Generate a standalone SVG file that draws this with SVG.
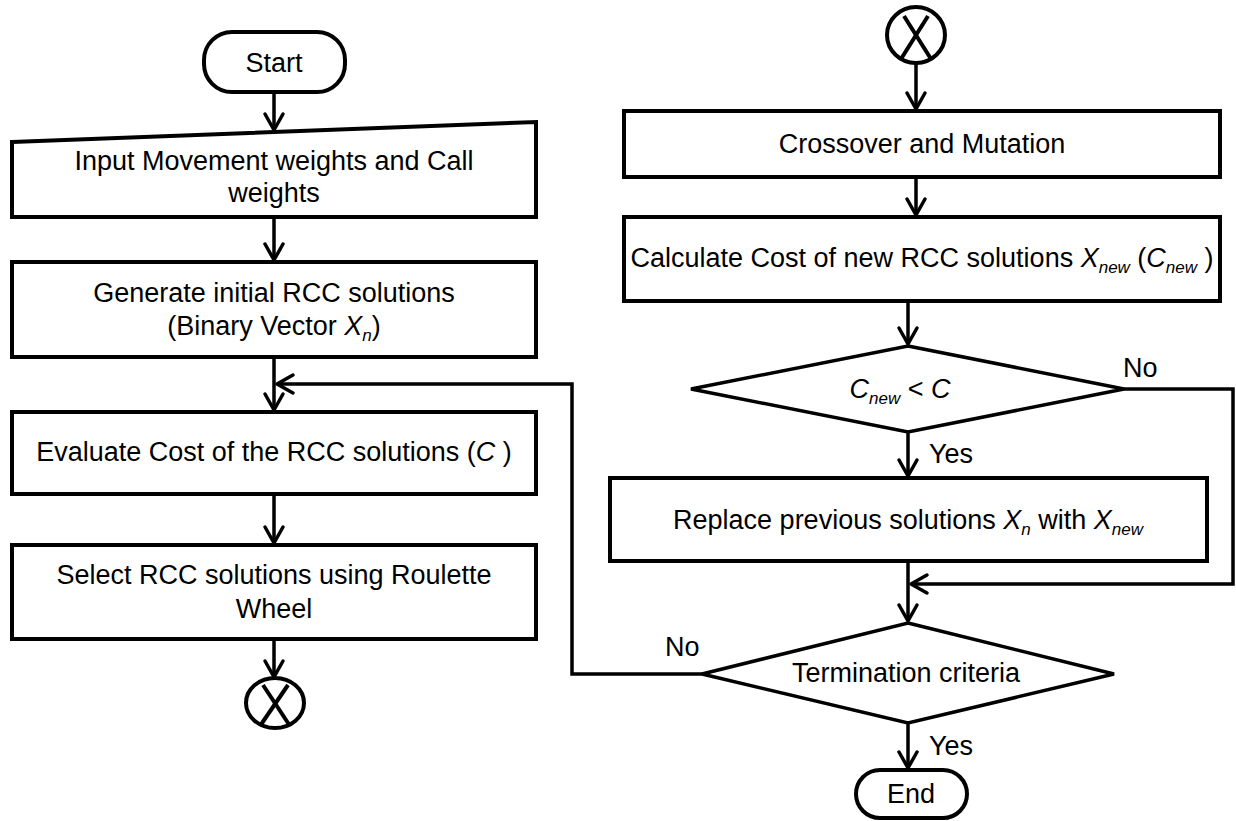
<svg xmlns="http://www.w3.org/2000/svg" width="1236" height="821" viewBox="0 0 1236 821">
<style>
.box{fill:#fff;stroke:#000;stroke-width:4;stroke-linejoin:miter}
.dia{fill:#fff;stroke:#000;stroke-width:3.5}
.ln{fill:none;stroke:#000;stroke-width:3.5}
.t{font-family:"Liberation Sans",Arial,sans-serif;font-size:27px;fill:#000}
.c{text-anchor:middle}
.i{font-style:italic}
.s{font-style:italic;font-size:17px}
</style>
<defs>
<marker id="ah" markerUnits="userSpaceOnUse" markerWidth="40" markerHeight="40" viewBox="-20 -20 40 40" refX="0" refY="0" orient="auto" overflow="visible">
<path d="M-16,-9 L0,0 L-16,9" fill="none" stroke="#000" stroke-width="3.5" stroke-linejoin="round" stroke-linecap="round"/>
</marker>
</defs>
<rect width="1236" height="821" fill="#fff"/>
<g id="connectors">
<path class="ln" d="M274,92 L274,130" marker-end="url(#ah)"/>
<path class="ln" d="M274,217 L274,260" marker-end="url(#ah)"/>
<path class="ln" d="M274,357 L274,410" marker-end="url(#ah)"/>
<path class="ln" d="M274,494 L274,543" marker-end="url(#ah)"/>
<path class="ln" d="M274,639 L274,677" marker-end="url(#ah)"/>
<path class="ln" d="M916,63 L916,109" marker-end="url(#ah)"/>
<path class="ln" d="M916,177 L916,215" marker-end="url(#ah)"/>
<path class="ln" d="M908,301 L908,344" marker-end="url(#ah)"/>
<path class="ln" d="M908,432 L908,476" marker-end="url(#ah)"/>
<path class="ln" d="M1124,389 L1233,389 L1233,584 L911,584" marker-end="url(#ah)"/>
<path class="ln" d="M908,561 L908,621" marker-end="url(#ah)"/>
<path class="ln" d="M908,723 L908,768" marker-end="url(#ah)"/>
<path class="ln" d="M702,674 L572,674 L572,384 L277,384" marker-end="url(#ah)"/>
<text class="t" x="1123" y="377">No</text>
<text class="t" x="929" y="463">Yes</text>
<text class="t" x="665" y="656">No</text>
<text class="t" x="929" y="755">Yes</text>
</g>
<g id="start">
<rect class="box" x="204" y="32" width="141" height="60" rx="28" ry="28"/>
<text class="t c" x="274" y="72">Start</text>
</g>
<g id="input">
<polygon class="box" points="12,142 536,122 536,217 12,217"/>
<text class="t c" x="274" y="170">Input Movement weights and Call</text>
<text class="t c" x="274" y="202">weights</text>
</g>
<g id="generate">
<rect class="box" x="12" y="262" width="524" height="95"/>
<text class="t c" x="274" y="302">Generate initial RCC solutions</text>
<text class="t c" x="274" y="335">(Binary Vector <tspan class="i">X</tspan><tspan class="s" dy="6">n</tspan><tspan dy="-6">)</tspan></text>
</g>
<g id="evaluate">
<rect class="box" x="12" y="412" width="524" height="82"/>
<text class="t c" x="274" y="461">Evaluate Cost of the RCC solutions (<tspan class="i">C</tspan> )</text>
</g>
<g id="select">
<rect class="box" x="12" y="545" width="524" height="94"/>
<text class="t c" x="274" y="584">Select RCC solutions using Roulette</text>
<text class="t c" x="274" y="618">Wheel</text>
</g>
<g id="connector-out">
<ellipse cx="275" cy="703" rx="29" ry="25" fill="#fff" stroke="#000" stroke-width="4"/>
<line x1="263" y1="685" x2="290" y2="726" stroke="#000" stroke-width="4"/>
<line x1="288" y1="685" x2="260" y2="726" stroke="#000" stroke-width="4"/>
</g>
<g id="connector-in">
<ellipse cx="916" cy="35" rx="29" ry="28" fill="#fff" stroke="#000" stroke-width="4"/>
<line x1="904" y1="16" x2="931" y2="59" stroke="#000" stroke-width="4"/>
<line x1="928" y1="16" x2="901" y2="59" stroke="#000" stroke-width="4"/>
</g>
<g id="crossover">
<rect class="box" x="624" y="111" width="596" height="66"/>
<text class="t c" x="922" y="153">Crossover and Mutation</text>
</g>
<g id="calculate">
<rect class="box" x="624" y="217" width="596" height="84"/>
<text class="t c" x="922" y="267">Calculate Cost of new RCC solutions <tspan class="i">X</tspan><tspan class="s" dy="6">new</tspan><tspan dy="-6"> (</tspan><tspan class="i">C</tspan><tspan class="s" dy="6">new</tspan><tspan dy="-6"> )</tspan></text>
</g>
<g id="decision-cost">
<polygon class="dia" points="908,346 1124,389 908,432 691,389"/>
<text class="t c" x="900" y="398"><tspan class="i">C</tspan><tspan class="s" dy="6">new</tspan><tspan dy="-6"> &lt; </tspan><tspan class="i">C</tspan></text>
</g>
<g id="replace">
<rect class="box" x="610" y="478" width="597" height="83"/>
<text class="t c" x="908" y="529">Replace previous solutions <tspan class="i">X</tspan><tspan class="s" dy="6">n</tspan><tspan dy="-6"> with </tspan><tspan class="i">X</tspan><tspan class="s" dy="6">new</tspan></text>
</g>
<g id="decision-term">
<polygon class="dia" points="908,623 1114,674 908,723 702,674"/>
<text class="t c" x="906" y="682">Termination criteria</text>
</g>
<g id="end">
<rect class="box" x="856" y="770" width="111" height="48" rx="24" ry="24"/>
<text class="t c" x="911" y="803">End</text>
</g>
</svg>
